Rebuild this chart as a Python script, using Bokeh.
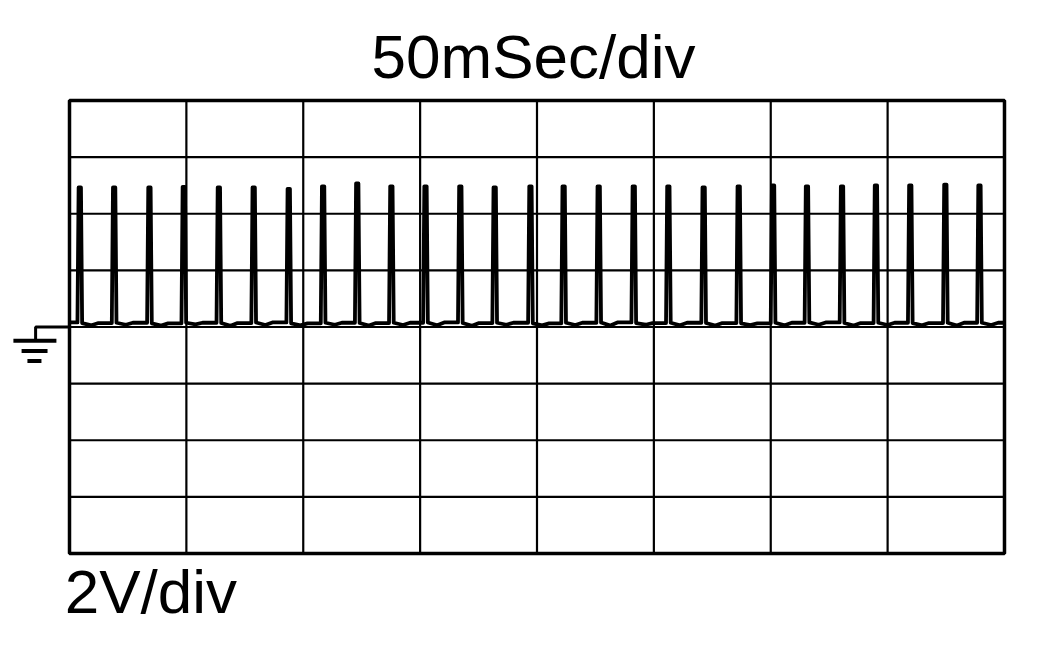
from bokeh.plotting import figure
from bokeh.models import Range1d, Label
from bokeh.embed import file_html
from bokeh.resources import INLINE

TIME_DIVS_MS = [0, 50, 100, 150, 200, 250, 300, 350, 400]
VOLT_DIVS_V = [-8, -6, -4, -2, 0, 2, 4, 6, 8]
PULSE_T_MS = [4.4, 19.1, 34.2, 48.9, 63.9, 78.8, 93.8, 108.5, 123.1, 137.7,
              152.3, 167.2, 181.9, 197.2, 211.4, 226.4, 241.4, 256.2, 271.3,
              286.3, 301.0, 315.5, 330.5, 345.0, 359.7, 374.7, 389.3]
PULSE_PEAK_V = [4.93, 4.93, 4.93, 4.95, 4.93, 4.93, 4.88, 4.97, 5.07, 4.97,
                4.97, 4.97, 4.93, 4.97, 4.97, 4.97, 4.97, 4.97, 4.93, 4.97,
                5.00, 4.97, 4.97, 5.00, 5.00, 5.03, 5.00]
BASELINE_V = [0.16, 0.14, 0.15, 0.13, 0.15, 0.14, 0.16, 0.13, 0.15, 0.14,
              0.15, 0.16, 0.14, 0.15, 0.13, 0.15, 0.16, 0.14, 0.15, 0.14,
              0.13, 0.15, 0.16, 0.14, 0.15, 0.14, 0.15, 0.15]
DIP_V = [0.06, 0.08, 0.05, 0.09, 0.04, 0.07, 0.06, 0.08, 0.05, 0.07,
         0.06, 0.04, 0.08, 0.06, 0.07, 0.05, 0.08, 0.06, 0.05, 0.07,
         0.06, 0.08, 0.05, 0.07, 0.06, 0.05, 0.07]
TIME_LABEL = "50mSec/div"
VOLT_LABEL = "2V/div"

FONT = "Liberation Sans"

# ---- build trace ----
tx = [TIME_DIVS_MS[0]]
ty = [BASELINE_V[0]]
for i, (t, pk) in enumerate(zip(PULSE_T_MS, PULSE_PEAK_V)):
    pre = BASELINE_V[i]
    post = BASELINE_V[i + 1]
    tx += [t - 1.0, t - 0.5, t + 0.5, t + 1.0, t + 5.0, t + 8.0]
    ty += [pre, pk, pk, post, DIP_V[i], post]
tx.append(TIME_DIVS_MS[-1])
ty.append(BASELINE_V[-1])

p = figure(width=1052, height=650, output_backend="svg", toolbar_location=None,
           x_range=Range1d(-29.52, 420.54), y_range=Range1d(-11.426, 11.532),
           x_axis_location=None, y_axis_location=None,
           min_border=0, min_border_left=0, min_border_right=0,
           min_border_top=0, min_border_bottom=0)
p.outline_line_color = None
p.xgrid.visible = False
p.ygrid.visible = False
p.background_fill_color = "white"
p.border_fill_color = "white"

t0, t1 = TIME_DIVS_MS[0], TIME_DIVS_MS[-1]
v0, v1 = VOLT_DIVS_V[0], VOLT_DIVS_V[-1]

# inner grid
vx = TIME_DIVS_MS[1:-1]
p.segment(x0=vx, y0=[v0] * len(vx), x1=vx, y1=[v1] * len(vx),
          line_color="black", line_width=2.2)
hy = VOLT_DIVS_V[1:-1]
p.segment(x0=[t0] * len(hy), y0=hy, x1=[t1] * len(hy), y1=hy,
          line_color="black", line_width=2.2)

# outer frame
p.quad(left=[t0], right=[t1], bottom=[v0], top=[v1], fill_color=None,
       line_color="black", line_width=3.5)

# ground marker
p.line(x=[t0, -14.5, -14.5], y=[0, 0, -0.49], line_color="black", line_width=3)
p.segment(x0=[-24.0, -20.5, -18.0], y0=[-0.49, -0.85, -1.20],
          x1=[-5.6, -9.4, -12.0], y1=[-0.49, -0.85, -1.20],
          line_color="black", line_width=4)

# trace
p.line(x=tx, y=ty, line_color="black", line_width=3.8, line_join="round")

# labels
p.add_layout(Label(x=198.5, y=9.554, text=TIME_LABEL, text_align="center",
                   text_baseline="alphabetic", text_font=FONT,
                   text_font_size="62px", text_color="black"))
p.add_layout(Label(x=-2.05, y=-9.342, text=VOLT_LABEL, text_align="left",
                   text_baseline="alphabetic", text_font=FONT,
                   text_font_size="62px", text_color="black"))

open("out.html", "w").write(file_html(p, INLINE))
